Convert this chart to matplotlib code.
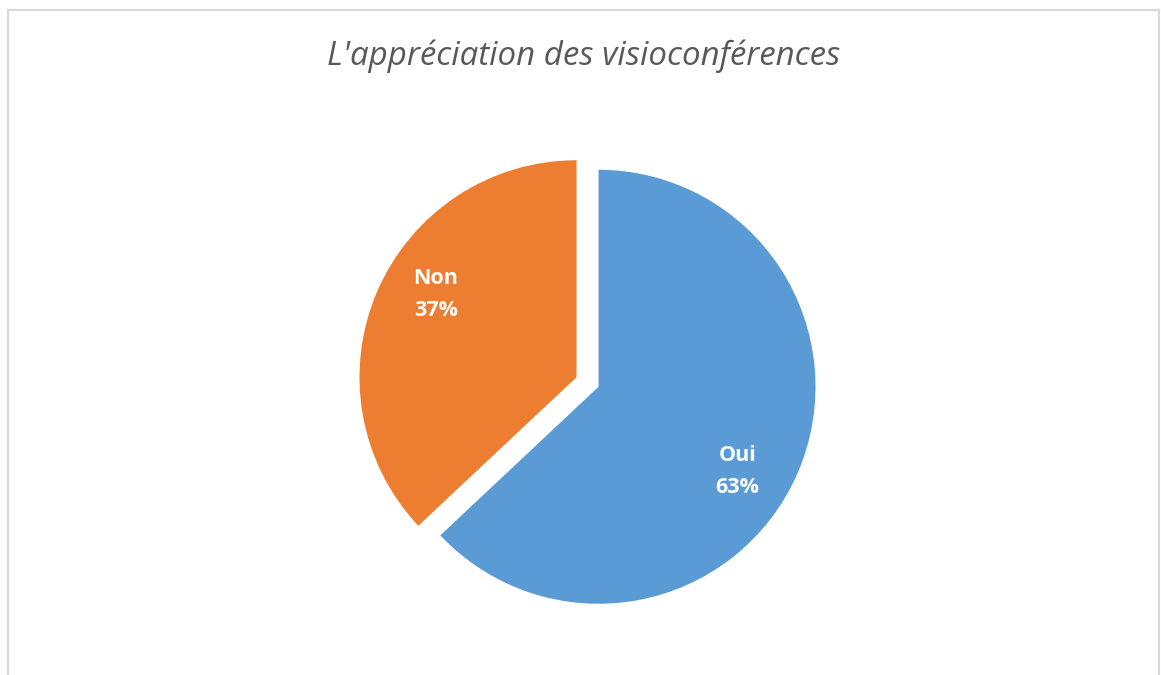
import matplotlib
matplotlib.use("Agg")
import matplotlib.pyplot as plt
import numpy as np
from matplotlib.lines import Line2D

categories = ["Oui", "Non"]
values = [63, 37]
colors = ["#5B9BD5", "#ED7D31"]
title = "L'appréciation des visioconférences"

W, H = 1161, 675
fig = plt.figure(figsize=(W / 100, H / 100), dpi=100)
fig.patch.set_facecolor("white")
ax = fig.add_axes([0, 0, 1, 1])

cx, cy, r = 587.5, H - 382, 217
wedges, _ = ax.pie(values, colors=colors, startangle=90, counterclock=False,
                   center=(cx, cy), radius=r, explode=[12, 12],
                   wedgeprops=dict(linewidth=0), frame=True)
ax.axis("off")
ax.set_xlim(0, W)
ax.set_ylim(0, H)
ax.set_aspect("equal")

# labels
total = sum(values)
angles = []
start = 90
for v in values:
    sweep = 360 * v / total
    angles.append(start - sweep / 2)
    start -= sweep
offsets = [-7.5, -6.5]
for cat, v, a, off in zip(categories, values, angles, offsets):
    ang = np.deg2rad(a + off)
    d = 175
    x = cx + d * np.cos(ang)
    y = cy + d * np.sin(ang)
    ax.text(x, y, f"{cat}\n{v}%", color="white", fontsize=15.5, fontweight="bold",
            ha="center", va="center", family=["Open Sans", "DejaVu Sans"],
            linespacing=1.7)

fig.text(584 / W, 1 - 56 / H, title, ha="center", va="center", fontsize=23.8,
         style="italic", color="#595959", family=["Open Sans", "DejaVu Sans"])

# border
bc = "#D9D9D9"
fig.add_artist(Line2D([8 / W, 8 / W], [0, 1 - 10 / H], color=bc, lw=1.5, transform=fig.transFigure))
fig.add_artist(Line2D([1159 / W, 1159 / W], [0, 1 - 10 / H], color=bc, lw=1.5, transform=fig.transFigure))
fig.add_artist(Line2D([8 / W, 1159 / W], [1 - 10 / H, 1 - 10 / H], color=bc, lw=1.5, transform=fig.transFigure))

fig.savefig("out.png", dpi=100, facecolor="white")
